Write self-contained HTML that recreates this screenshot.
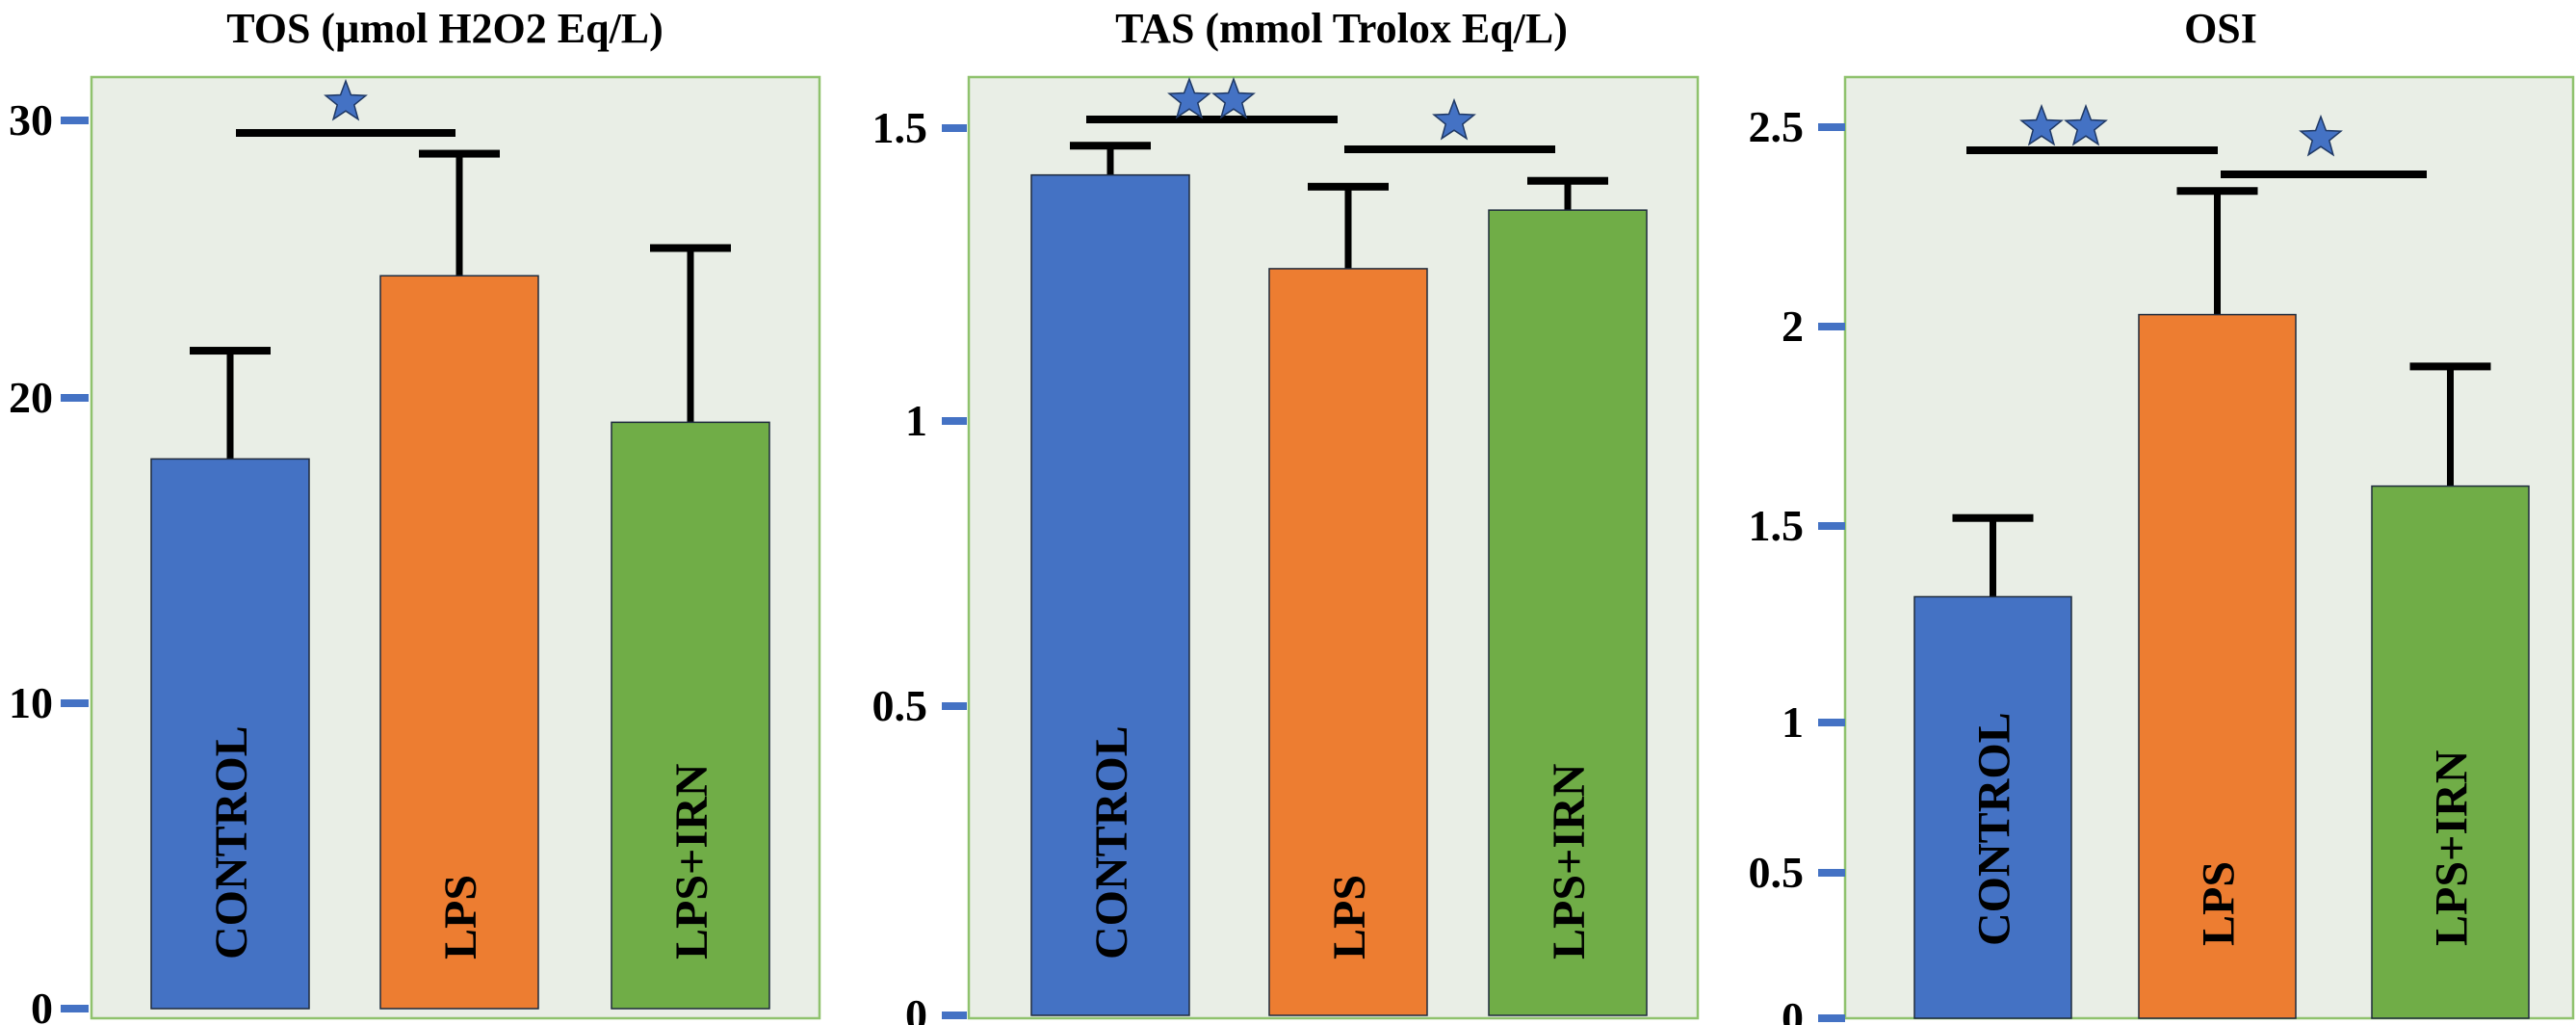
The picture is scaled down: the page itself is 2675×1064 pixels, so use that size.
<!DOCTYPE html>
<html><head><meta charset="utf-8"><style>
html,body{margin:0;padding:0;background:#fff;width:2675px;height:1064px;overflow:hidden}
svg text{font-family:"Liberation Serif","Times New Roman",serif;font-weight:bold;fill:#000}
</style></head><body>
<svg id="chart" width="2675" height="1064" viewBox="0 0 2675 1064" xmlns="http://www.w3.org/2000/svg"></svg>
<script>
const categories = ["CONTROL","LPS","LPS+IRN"];
const tosValues = [18.0, 24.4, 19.2];
const tosErrors = [21.7, 28.8, 25.4];
const tasValues = [1.42, 1.26, 1.36];
const tasErrors = [1.47, 1.40, 1.41];
const osiValues = [1.32, 2.03, 1.60];
const osiErrors = [1.52, 2.34, 1.90];
const tosTicks = [0, 10, 20, 30];
const tasTicks = [0, 0.5, 1, 1.5];
const osiTicks = [0, 0.5, 1, 1.5, 2, 2.5];
const tosTickLabels = ["0","10","20","30"];
const tasTickLabels = ["0","0.5","1","1.5"];
const osiTickLabels = ["0","0.5","1","1.5","2","2.5"];

const NS = "http://www.w3.org/2000/svg";
const svg = document.getElementById("chart");
const colors = ["#4472c4","#ed7d31","#70ad47"];
const FONT = "Liberation Serif, Times New Roman, serif";
function mk(tag, attrs, parent){const e=document.createElementNS(NS,tag);for(const k in attrs)e.setAttribute(k,attrs[k]);(parent||svg).appendChild(e);return e;}
function pw(dom, rng){return v=>{for(let i=0;i<dom.length-1;i++){if(v<=dom[i+1]||i===dom.length-2){const t=(v-dom[i])/(dom[i+1]-dom[i]);return rng[i]+t*(rng[i+1]-rng[i]);}}};}
function starPts(cx,cy,r){let p=[];for(let i=0;i<10;i++){const a=-Math.PI/2+i*Math.PI/5;const rr=i%2?r*0.42:r;p.push((cx+rr*Math.cos(a)).toFixed(1)+","+(cy+rr*Math.sin(a)).toFixed(1));}return p.join(" ");}

const panels = [
 {id:"tos",title:"TOS (µmol H2O2 Eq/L)",tcx:462,frame:[95,80,851,1057],vals:tosValues,errs:tosErrors,ticks:tosTicks,labels:tosTickLabels,
  scale:pw(tosTicks,[1047,730,413,125]),tickX:[63,92],labelX:55,barX:[157,395,635],barW:164,textEnd:996,
  sig:[{x1:245,x2:473,y:138,stars:[359],sy:106}]},
 {id:"tas",title:"TAS (mmol Trolox Eq/L)",tcx:1393,frame:[1006,80,1763,1057],vals:tasValues,errs:tasErrors,ticks:tasTicks,labels:tasTickLabels,
  scale:pw(tasTicks,[1054,733,437,133]),tickX:[978,1004],labelX:963,barX:[1071,1318,1546],barW:164,textEnd:996,
  sig:[{x1:1128,x2:1389,y:124,stars:[1235,1281],sy:104},{x1:1396,x2:1615,y:155,stars:[1510],sy:126}]},
 {id:"osi",title:"OSI",tcx:2306,frame:[1916,80,2672,1057],vals:osiValues,errs:osiErrors,ticks:osiTicks,labels:osiTickLabels,
  scale:pw(osiTicks,[1057,906,750,546,339,132]),tickX:[1888,1916],labelX:1873,barX:[1988,2221,2463],barW:163,textEnd:982,
  sig:[{x1:2042,x2:2303,y:156,stars:[2120,2166],sy:132},{x1:2306,x2:2520,y:181,stars:[2410],sy:143}]}
];

panels.forEach(p=>{
  const g = mk("g",{});
  
  
  const t = mk("text",{x:p.tcx,y:44,"text-anchor":"middle","font-size":44,"font-family":FONT,"font-weight":"bold"},g);
  t.textContent = p.title;
  
  
  const [fx1,fy1,fx2,fy2] = p.frame;
  const fr = mk("rect",{x:fx1,y:fy1,width:fx2-fx1,height:fy2-fy1,fill:"#e9eee6",stroke:"#8fc26d","stroke-width":2.5},g);
  
  
  p.ticks.forEach((v,i)=>{
    const y = p.scale(v);
    const tk = mk("rect",{x:p.tickX[0],y:y-4,width:p.tickX[1]-p.tickX[0],height:8,fill:"#4472c4"},g);
    
    
    const tl = mk("text",{x:p.labelX,y:y+15,"text-anchor":"end","font-size":46,"font-family":FONT,"font-weight":"bold"},g);
    tl.textContent = p.labels[i];
    
    
  });
  const y0 = Math.min(p.scale(0), fy2);
  p.vals.forEach((v,i)=>{
    const x = p.barX[i], w = p.barW, yt = p.scale(v), ye = p.scale(p.errs[i]), cx = x+w/2;
    const stem = mk("rect",{x:cx-3.5,y:ye,width:7,height:yt-ye,fill:"#000"},g);
    
    
    const cap = mk("rect",{x:cx-42,y:ye-4,width:84,height:8,fill:"#000"},g);
    
    
    const b = mk("rect",{x:x,y:yt,width:w,height:y0-yt,fill:colors[i],stroke:"#1e2a3c","stroke-width":1.5},g);
    
    
    const lb = mk("text",{x:0,y:0,"font-size":48,"font-family":FONT,"font-weight":"bold",transform:"translate("+(cx+17)+","+p.textEnd+") rotate(-90)"},g);
    lb.textContent = categories[i];
    
    
  });
  p.sig.forEach(s=>{
    const ln = mk("rect",{x:s.x1,y:s.y-4,width:s.x2-s.x1,height:8,fill:"#000"},g);
    
    
    s.stars.forEach(sx=>{
      const st = mk("polygon",{points:starPts(sx,s.sy,22),fill:"#4472c4",stroke:"#1f3864","stroke-width":1.5},g);
      
      
    });
  });
});
</script>
</body></html>
